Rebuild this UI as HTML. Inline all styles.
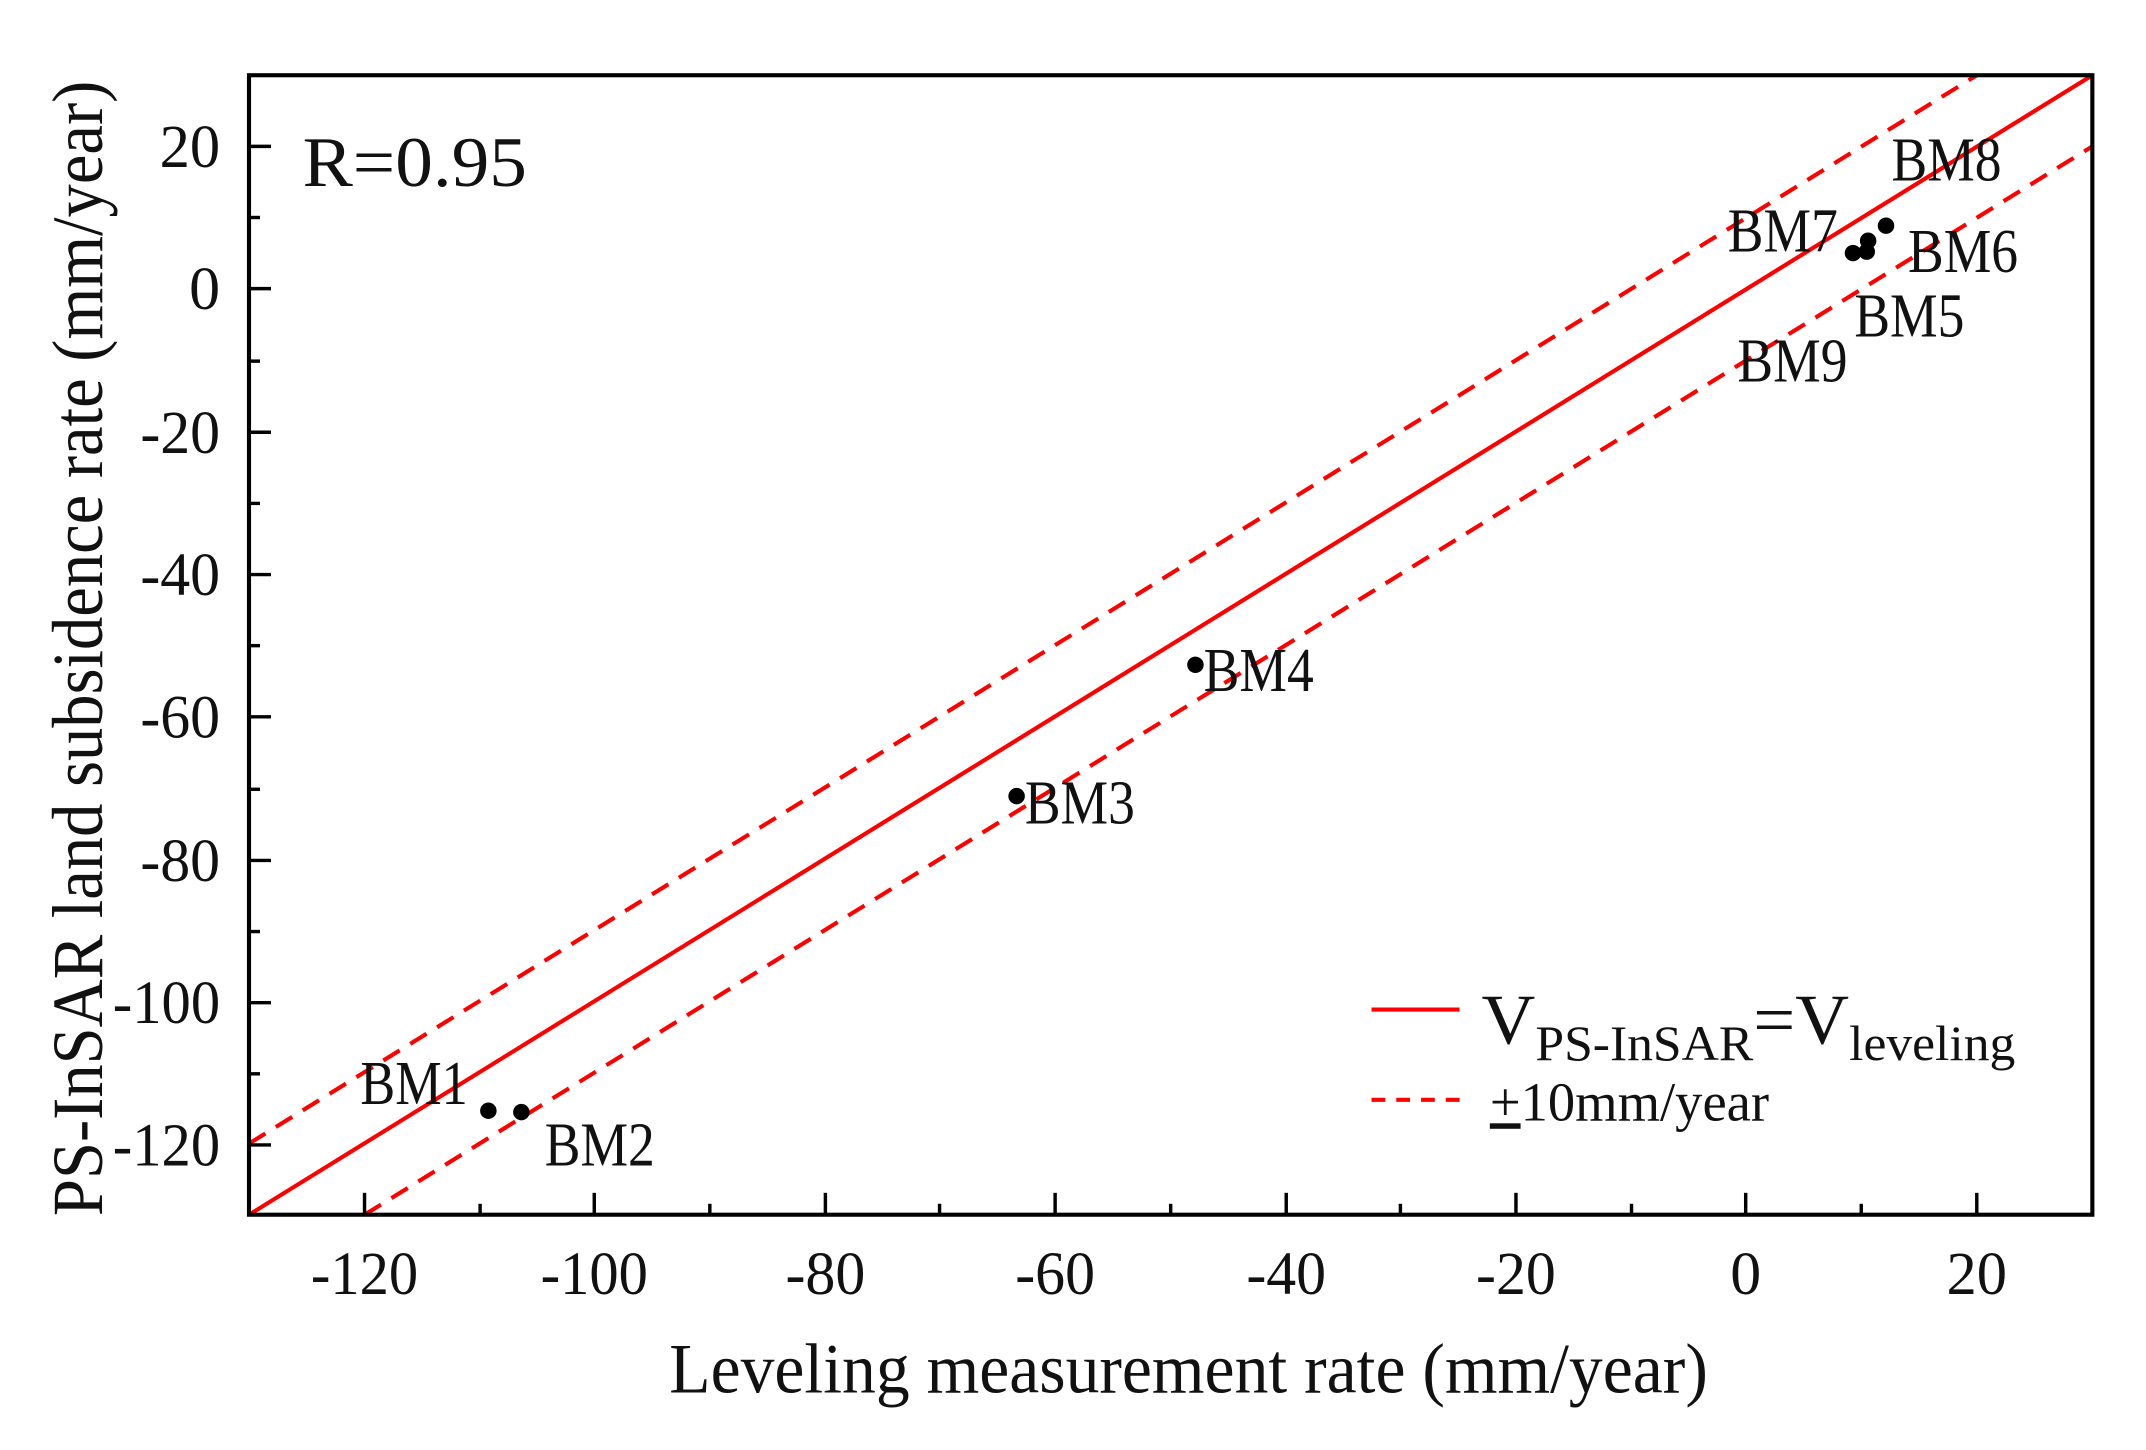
<!DOCTYPE html>
<html><head><meta charset="utf-8"><style>html,body{margin:0;padding:0;background:#fff}svg{display:block}</style></head><body>
<svg width="2146" height="1450" viewBox="0 0 1560 1060" preserveAspectRatio="none" xmlns="http://www.w3.org/2000/svg" font-family="Liberation Serif, serif">
<rect width="1560" height="1060" fill="#fff"/>
<g stroke="#f00" stroke-width="3" fill="none">
<line x1="181" y1="888" x2="1521" y2="55"/>
<line x1="181" y1="836" x2="1437" y2="55" stroke-dasharray="14,9"/>
<line x1="265" y1="888" x2="1521" y2="107" stroke-dasharray="14,9"/>
</g>
<rect x="181" y="55" width="1340" height="833" fill="none" stroke="#000" stroke-width="3"/>
<g stroke="#000" stroke-width="2.5">
<line x1="265" y1="888" x2="265" y2="872"/><line x1="432" y1="888" x2="432" y2="872"/><line x1="600" y1="888" x2="600" y2="872"/><line x1="767" y1="888" x2="767" y2="872"/><line x1="935" y1="888" x2="935" y2="872"/><line x1="1102" y1="888" x2="1102" y2="872"/><line x1="1269" y1="888" x2="1269" y2="872"/><line x1="1437" y1="888" x2="1437" y2="872"/>
<line x1="349" y1="888" x2="349" y2="880"/><line x1="516" y1="888" x2="516" y2="880"/><line x1="683" y1="888" x2="683" y2="880"/><line x1="851" y1="888" x2="851" y2="880"/><line x1="1018" y1="888" x2="1018" y2="880"/><line x1="1186" y1="888" x2="1186" y2="880"/><line x1="1353" y1="888" x2="1353" y2="880"/>
<line x1="181" y1="107" x2="197" y2="107"/><line x1="181" y1="211" x2="197" y2="211"/><line x1="181" y1="316" x2="197" y2="316"/><line x1="181" y1="420" x2="197" y2="420"/><line x1="181" y1="524" x2="197" y2="524"/><line x1="181" y1="629" x2="197" y2="629"/><line x1="181" y1="733" x2="197" y2="733"/><line x1="181" y1="837" x2="197" y2="837"/>
<line x1="181" y1="159" x2="189" y2="159"/><line x1="181" y1="264" x2="189" y2="264"/><line x1="181" y1="368" x2="189" y2="368"/><line x1="181" y1="472" x2="189" y2="472"/><line x1="181" y1="577" x2="189" y2="577"/><line x1="181" y1="681" x2="189" y2="681"/><line x1="181" y1="785" x2="189" y2="785"/>
</g>
<g font-size="45" fill="#111" text-anchor="middle">
<text x="265" y="946" textLength="78" lengthAdjust="spacingAndGlyphs">-120</text><text x="432" y="946" textLength="78" lengthAdjust="spacingAndGlyphs">-100</text><text x="600" y="946" textLength="58" lengthAdjust="spacingAndGlyphs">-80</text><text x="767" y="946" textLength="58" lengthAdjust="spacingAndGlyphs">-60</text><text x="935" y="946" textLength="58" lengthAdjust="spacingAndGlyphs">-40</text><text x="1102" y="946" textLength="58" lengthAdjust="spacingAndGlyphs">-20</text><text x="1269" y="946">0</text><text x="1437" y="946" textLength="44" lengthAdjust="spacingAndGlyphs">20</text>
</g>
<g font-size="45" fill="#111" text-anchor="end">
<text x="160" y="122" textLength="44" lengthAdjust="spacingAndGlyphs">20</text><text x="160" y="226">0</text><text x="160" y="331" textLength="58" lengthAdjust="spacingAndGlyphs">-20</text><text x="160" y="435" textLength="58" lengthAdjust="spacingAndGlyphs">-40</text><text x="160" y="539" textLength="58" lengthAdjust="spacingAndGlyphs">-60</text><text x="160" y="644" textLength="58" lengthAdjust="spacingAndGlyphs">-80</text><text x="160" y="748" textLength="78" lengthAdjust="spacingAndGlyphs">-100</text><text x="160" y="852" textLength="78" lengthAdjust="spacingAndGlyphs">-120</text>
</g>
<text x="864" y="1018" font-size="52" text-anchor="middle" fill="#111" textLength="755" lengthAdjust="spacingAndGlyphs">Leveling measurement rate (mm/year)</text>
<text transform="translate(74,474) rotate(-90)" font-size="52" text-anchor="middle" fill="#111" textLength="830" lengthAdjust="spacingAndGlyphs">PS-InSAR land subsidence rate (mm/year)</text>
<text x="220" y="136" font-size="52" fill="#111" textLength="163" lengthAdjust="spacingAndGlyphs">R=0.95</text>
<g fill="#000">
<circle cx="355" cy="812" r="6"/><circle cx="379" cy="813" r="6"/><circle cx="739" cy="582" r="6"/><circle cx="869" cy="486" r="6"/>
<circle cx="1347" cy="185" r="6"/><circle cx="1357" cy="184" r="6"/><circle cx="1358" cy="176" r="6"/><circle cx="1371" cy="165" r="6"/>
</g>
<g font-size="46" fill="#111">
<text x="262" y="807" textLength="78" lengthAdjust="spacingAndGlyphs">BM1</text><text x="396" y="852" textLength="80" lengthAdjust="spacingAndGlyphs">BM2</text><text x="745" y="602" textLength="80" lengthAdjust="spacingAndGlyphs">BM3</text><text x="875" y="505" textLength="80" lengthAdjust="spacingAndGlyphs">BM4</text>
<text x="1348" y="246" textLength="80" lengthAdjust="spacingAndGlyphs">BM5</text><text x="1387" y="199" textLength="80" lengthAdjust="spacingAndGlyphs">BM6</text><text x="1256" y="184" textLength="80" lengthAdjust="spacingAndGlyphs">BM7</text><text x="1375" y="132" textLength="80" lengthAdjust="spacingAndGlyphs">BM8</text><text x="1263" y="279" textLength="80" lengthAdjust="spacingAndGlyphs">BM9</text>
</g>
<line x1="997" y1="738" x2="1061" y2="738" stroke="#f00" stroke-width="3"/>
<line x1="997" y1="804" x2="1061" y2="804" stroke="#f00" stroke-width="3" stroke-dasharray="10,8"/>
<text x="1077" y="763" font-size="52" fill="#111" textLength="388" lengthAdjust="spacingAndGlyphs">V<tspan font-size="36" dy="12">PS-InSAR</tspan><tspan dy="-12">=V</tspan><tspan font-size="36" dy="12">leveling</tspan></text>
<text x="1083" y="819" font-size="40" fill="#111" textLength="203" lengthAdjust="spacingAndGlyphs"><tspan text-decoration="underline">+</tspan>10mm/year</text>
</svg>
</body></html>
